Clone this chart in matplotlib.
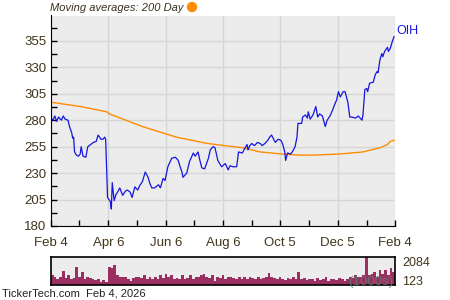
import numpy as np
import matplotlib
matplotlib.use('Agg')
import matplotlib.pyplot as plt
from matplotlib.patches import Ellipse

plt.rcParams['font.family'] = ['Liberation Sans', 'DejaVu Sans']

# OIH close, x = days since Feb 4 2025
price_days = [0, 2, 4, 6, 8, 11, 13, 15, 18, 20, 22, 23, 24, 25, 27, 29, 31, 32, 34, 37,
              39, 42, 45, 48, 50, 53, 55, 57, 58, 59, 60, 63, 64, 65, 67, 69, 70, 73, 76, 79,
              81, 84, 86, 89, 92, 94, 97, 100, 103, 105, 107, 110, 114, 116, 119, 121, 124, 128, 132, 135,
              137, 139, 140, 144, 147, 151, 153, 156, 158, 160, 163, 167, 169, 172, 174, 177, 179, 181, 185, 188,
              190, 193, 197, 199, 203, 206, 208, 209, 211, 213, 216, 219, 222, 224, 227, 230, 232, 234, 238, 241,
              244, 246, 248, 249, 251, 254, 256, 259, 261, 262, 266, 267, 270, 272, 273, 275, 278, 281, 283, 285,
              288, 291, 293, 296, 299, 301, 303, 305, 307, 310, 312, 315, 317, 319, 323, 326, 330, 331, 333, 335,
              336, 338, 342, 344, 346, 347, 349, 351, 352, 354, 357, 358, 360, 362, 364]
price = [282, 280, 284, 279, 283, 280, 284, 281, 280, 273, 268, 263, 264, 250, 247, 246, 248, 255, 246, 245,
         255, 257, 259, 260, 266, 262, 262, 264, 262, 235, 207, 203, 196, 221, 204, 210, 211, 216, 209, 213,
         214, 212, 207, 217, 214, 218, 222, 231, 226, 220, 216, 216, 219, 216, 225, 223, 236, 244, 245, 242,
         236, 231, 226, 230, 241, 249, 246, 250, 242, 235, 234, 244, 252, 255, 254, 242, 239, 236, 239, 233,
         237, 236, 236, 250, 249, 254, 257, 252, 256, 258, 256, 259, 258, 256, 258, 261, 264, 266, 259, 262,
         261, 257, 250, 242, 249, 248, 250, 255, 264, 277, 277, 283, 285, 282, 288, 281, 285, 293, 283, 286,
         284, 274, 280, 284, 290, 295, 299, 307, 302, 307, 307, 297, 283, 283, 282, 284, 280, 285, 309, 310,
         307, 315, 316, 323, 326, 325, 337, 343, 340, 345, 349, 345, 348, 354, 359]

# 200 day moving average
ma_days = [0, 31, 59, 62, 97, 133, 166, 203, 222, 246, 264, 278, 305, 331, 349, 357, 360, 364]
ma_200 = [297, 293, 288, 286, 274, 264, 258, 254, 250, 248, 247, 247, 248, 250, 254, 257, 260, 261]

# volume in 1000s, roughly every second trading day
volume = [729, 563, 417, 625, 1042, 521, 729, 417, 521, 1355, 625, 938, 417, 584, 521, 458, 375, 417, 250, 375,
          250, 1355, 1250, 1459, 729, 625, 584, 625, 417, 313, 521, 625, 584, 521, 729, 417, 584, 458, 625, 417,
          729, 521, 834, 625, 729, 417, 521, 417, 729, 417, 521, 729, 458, 625, 584, 729, 834, 625, 521, 729,
          313, 625, 521, 729, 417, 625,
          625, 521, 417, 625, 458, 584, 417, 625, 521, 417, 584, 458, 521, 625,
          875,
          584, 521, 417, 625, 458, 375, 521, 417, 584, 458,
          938,
          417, 521, 375, 458, 417, 313, 521, 375, 417, 584, 313, 417, 458, 375, 521, 417, 313, 458,
          625, 521, 729, 584, 625, 729,
          2084,
          729, 834, 938, 625, 1146, 834, 1146, 729, 1250, 938]

x_ticks = [0, 61, 122, 183, 243, 304, 365]
x_labels = ['Feb 4', 'Apr 6', 'Jun 6', 'Aug 6', 'Oct 5', 'Dec 5', 'Feb 4']
x_minor = [30, 91, 152, 213, 274, 335]
y_ticks = [180, 205, 230, 255, 280, 305, 330, 355]

label_color = '#40341a'
bg = '#ececec'

fig = plt.figure(figsize=(4.5, 3), dpi=100)
ax = fig.add_axes([51 / 450, 1 - 226 / 300, 344 / 450, 210.5 / 300])
ax.set_facecolor(bg)
ax.plot(ma_days, ma_200, color='#ff8c00', lw=1)
ax.plot(price_days, price, color='#1515e0', lw=0.9)
ax.set_xlim(0, 365)
ax.set_ylim(180, 379)
ax.set_xticks(x_ticks)
ax.set_xticklabels(x_labels)
ax.set_xticks(x_minor, minor=True)
ax.set_yticks(y_ticks)
ax.set_yticks([t + 12.5 for t in y_ticks], minor=True)
ax.grid(True, which='major', color='#d6d6d6', lw=1)
ax.set_axisbelow(True)
for s in ['top', 'right']:
    ax.spines[s].set_visible(False)
for s in ['left', 'bottom']:
    ax.spines[s].set_color('black')
ax.tick_params(which='both', direction='in', length=4, width=1, colors='black',
               labelcolor=label_color, labelsize=9.5)
ax.tick_params(axis='x', pad=8)
ax.text(1.005, (price[-1] - 180) / (379 - 180), 'OIH', transform=ax.transAxes,
        color='#1515e0', fontsize=9, va='bottom', ha='left')

fig.text(50 / 450, 1 - 8 / 300, 'Moving averages: 200 Day', fontsize=8, style='italic',
         color='#3a3020', va='center', ha='left')
fig.patches.append(Ellipse((192 / 450, 1 - 7 / 300), 9 / 450, 9 / 300, transform=fig.transFigure,
                           color='#ff8c00', zorder=5))

vax = fig.add_axes([51 / 450, 1 - 285 / 300, 344 / 450, 28 / 300])
vax.set_facecolor(bg)
vax.bar(np.arange(len(volume)), volume, width=1.0, color='#9b2f62', lw=0)
vax.set_xlim(-0.5, len(volume) - 0.5)
vax.set_ylim(0, max(volume))
vax.set_xticks([])
vax.set_yticks([])
for s in vax.spines.values():
    s.set_color('black')
    s.set_linewidth(1.2)
vax.text(1.02, 0.78, '2084', transform=vax.transAxes, fontsize=9, color=label_color,
         va='center', ha='left')
vax.text(1.02, 0.1, '123', transform=vax.transAxes, fontsize=9, color=label_color,
         va='center', ha='left')
vax.text(0.995, 0.1, '(1000s)', transform=vax.transAxes, fontsize=9.5, color='#5a8070',
         va='center', ha='right', alpha=0.85)

fig.text(2 / 450, 1 - 293 / 300, 'TickerTech.com  Feb 4, 2026', fontsize=8,
         color='#222222', va='center', ha='left')

plt.savefig('out.png', dpi=100)
